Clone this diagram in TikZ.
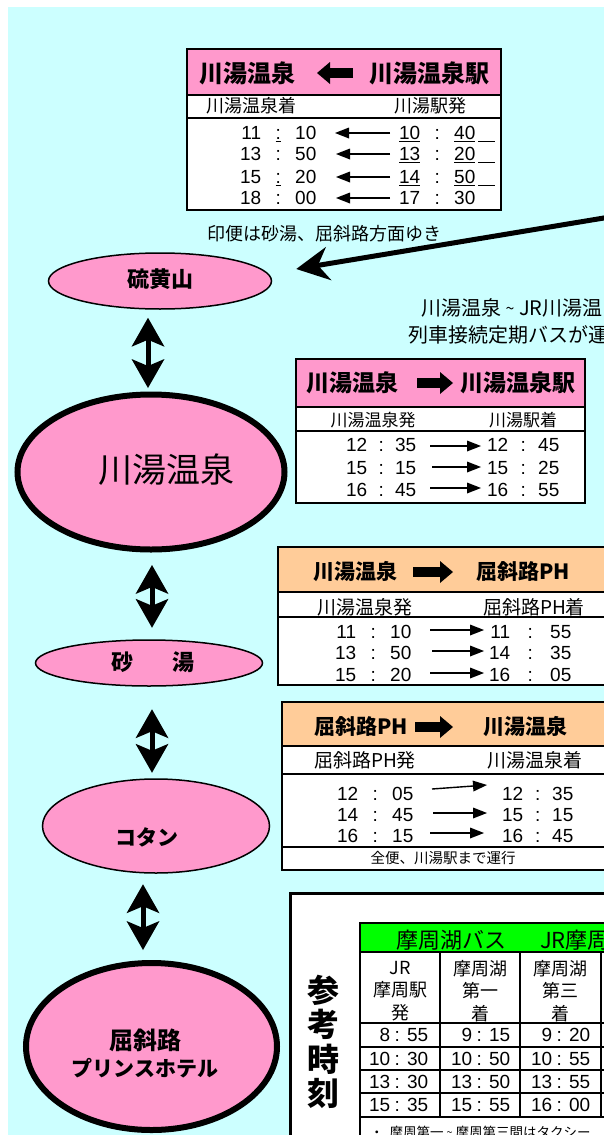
\documentclass[tikz,border=0pt]{standalone}
\usepackage{fontspec}
\setmainfont{Liberation Sans}
\newfontfamily\jp{Noto Sans CJK JP}
\usetikzlibrary{arrows.meta,shapes.geometric}
\definecolor{bgc}{HTML}{CCFFFF}
\definecolor{pk}{HTML}{FF99CC}
\definecolor{og}{HTML}{FFCC99}
\definecolor{gr}{HTML}{00FF00}
\newcommand\fs[1]{\fontsize{#1}{#1}\selectfont}
\newcommand\tm[4]{\makebox[20pt][r]{#2}\makebox[#1pt]{#3}\makebox[20pt][l]{#4}}
\newcommand\mt[2]{\makebox[24pt][r]{#1}\makebox[14pt]{:}\makebox[24pt][r]{#2}}
\newcommand\ul{\underline{\hspace{17pt}}}
\newcommand\tld{\raisebox{1pt}{\scalebox{0.8}{\string~}}}
\tikzset{
  ell/.style={ellipse, draw, fill=pk, inner sep=0pt},
  thinell/.style={ell, line width=1.5pt},
  thickell/.style={ell, line width=6pt},
  dbl/.style={line width=5pt, {Stealth[length=29pt,width=33pt,inset=7pt,line width=0pt]}-{Stealth[length=29pt,width=33pt,inset=7pt,line width=0pt]}},
  bigarr/.style={line width=5pt, -{Stealth[length=33pt,width=34pt,inset=11pt,line width=0pt]}},
  frame/.style={draw, line width=2pt},
  rule/.style={line width=1.6pt},
  hd/.style={font=\jp\bfseries\fs{#1}, inner sep=0pt},
  sub/.style={font=\jp\fs{#1}, inner sep=0pt},
  tt/.style={font=\fs{19}, inner sep=0pt, anchor=west, text height=13.6pt, text depth=0pt},
  dd/.style={tt},
  blk/.style={line width=10pt, -{Triangle[length=13pt,width=22pt,line width=0pt]}},
  rowarr/.style={line width=1.4pt, -{Triangle[length=14pt,width=11pt,line width=0pt]}},
  etxt/.style={inner sep=0pt}
}
\begin{document}
\begin{tikzpicture}[x=1pt,y=-1pt]
\useasboundingbox (0,0) rectangle (604,1135);
\clip (0,0) rectangle (604,1135);
\fill[bgc] (8,7) rectangle (620,1150);

% ---------- Table 1 ----------
\fill[white] (187,49) rectangle (501,210);
\fill[pk] (187,49) rectangle (501,95);
\draw[rule] (187,95) -- (501,95);
\draw[rule] (187,118) -- (501,118);
\draw[frame] (187,49) rectangle (501,210);
\node[hd=24] (t1a) at (247,73) {川湯温泉};
\node[hd=24] (t1b) at (429,73) {川湯温泉駅};
\draw[blk] (353,73) -- (317,73);
\node[sub=18, anchor=west] (t1c) at (206,106) {川湯温泉着};
\node[sub=18] (t1d) at (430,106) {川湯駅発};
\node[tt] (t1l1) at (241,133) {\tm{34}{11}{\underline{:}}{10}};
\node[tt] (t1r1) at (400,133) {\tm{34}{\underline{10}}{:}{\underline{40}}\hspace{4pt}\ul};
\node[tt] (t1l2) at (241,154) {\tm{34}{13}{:}{50}};
\node[tt] (t1r2) at (400,154) {\tm{34}{\underline{13}}{:}{\underline{20}}\hspace{4pt}\ul};
\node[tt] (t1l3) at (241,177) {\tm{34}{15}{\underline{:}}{20}};
\node[tt] (t1r3) at (400,177) {\tm{34}{\underline{14}}{:}{\underline{50}}\hspace{4pt}\ul};
\node[tt] (t1l4) at (241,198) {\tm{34}{18}{:}{00}};
\node[tt] (t1r4) at (400,198) {\tm{34}{17}{:}{30}};
\draw[rowarr] (390,133) -- (335,133);
\draw[rowarr] (390,154) -- (336,154);
\draw[rowarr] (390,177) -- (336,177);
\draw[rowarr] (390,198) -- (336,198);

% ---------- notes ----------
\node[sub=18, anchor=west] (note1) at (207,234) {印便は砂湯、屈斜路方面ゆき};
\node[sub=20, anchor=west] (note2) at (421,308) {川湯温泉 \tld\ JR川湯温};
\node[sub=20, anchor=west] (note3) at (408,335) {列車接続定期バスが運};

% ---------- Table 2 ----------
\fill[white] (296,359) rectangle (585,503);
\fill[pk] (296,359) rectangle (585,407);
\draw[rule] (296,407) -- (585,407);
\draw[rule] (296,431) -- (585,431);
\draw[frame] (296,359) rectangle (585,503);
\node[hd=23] (t2a) at (352,383) {川湯温泉};
\node[hd=23] (t2b) at (518,383) {川湯温泉駅};
\draw[blk] (417,383) -- (453,383);
\node[sub=17] (t2c) at (373,420) {川湯温泉発};
\node[sub=17] (t2d) at (523,420) {川湯駅着};
\node[tt] (t2l1) at (347,445) {\tm{28}{12}{:}{35}};
\node[tt] (t2r1) at (488,445) {\tm{30}{12}{:}{45}};
\node[tt] (t2l2) at (347,468) {\tm{28}{15}{:}{15}};
\node[tt] (t2r2) at (488,468) {\tm{30}{15}{:}{25}};
\node[tt] (t2l3) at (347,490) {\tm{28}{16}{:}{45}};
\node[tt] (t2r3) at (488,490) {\tm{30}{16}{:}{55}};
\draw[rowarr] (430,446) -- (481,446);
\draw[rowarr] (432,467) -- (481,467);
\draw[rowarr] (430,488) -- (481,488);

% ---------- Table 3 ----------
\fill[white] (278,547) rectangle (620,685);
\fill[og] (278,547) rectangle (620,592);
\draw[rule] (278,592) -- (620,592);
\draw[rule] (278,617) -- (620,617);
\draw[frame] (278,547) rectangle (620,685);
\node[hd=21] (t3a) at (355,572) {川湯温泉};
\node[hd=21] (t3b) at (523,572) {屈斜路PH};
\draw[blk] (413,572) -- (453,572);
\node[sub=19] (t3c) at (365,607) {川湯温泉発};
\node[sub=19] (t3d) at (534,607) {屈斜路PH着};
\node[tt] (t3l1) at (336,632) {\tm{34}{11}{:}{10}};
\node[tt] (t3r1) at (490,632) {\tm{40}{11}{:}{55}};
\node[tt] (t3l2) at (336,653) {\tm{34}{13}{:}{50}};
\node[tt] (t3r2) at (490,653) {\tm{40}{14}{:}{35}};
\node[tt] (t3l3) at (336,675) {\tm{34}{15}{:}{20}};
\node[tt] (t3r3) at (490,675) {\tm{40}{16}{:}{05}};
\draw[rowarr] (430,630) -- (484,630);
\draw[rowarr] (432,651) -- (484,651);
\draw[rowarr] (430,673) -- (484,673);

% ---------- Table 4 ----------
\fill[white] (282,702) rectangle (620,870);
\fill[og] (282,702) rectangle (620,746);
\draw[rule] (282,746) -- (620,746);
\draw[rule] (282,774) -- (620,774);
\draw[rule] (282,847) -- (620,847);
\draw[frame] (282,702) rectangle (620,870);
\node[hd=21] (t4a) at (361,727) {屈斜路PH};
\node[hd=21] (t4b) at (525,727) {川湯温泉};
\draw[blk] (415,727) -- (453,727);
\node[sub=19] (t4c) at (365,760) {屈斜路PH発};
\node[sub=19] (t4d) at (535,760) {川湯温泉着};
\node[tt] (t4l1) at (338,794) {\tm{34}{12}{:}{05}};
\node[tt] (t4r1) at (503,794) {\tm{29}{12}{:}{35}};
\node[tt] (t4l2) at (338,815) {\tm{34}{14}{:}{45}};
\node[tt] (t4r2) at (503,815) {\tm{29}{15}{:}{15}};
\node[tt] (t4l3) at (338,836) {\tm{34}{16}{:}{15}};
\node[tt] (t4r3) at (503,836) {\tm{29}{16}{:}{45}};
\draw[rowarr] (432,789) -- (487,785);
\draw[rowarr] (433,813) -- (487,813);
\draw[rowarr] (430,833) -- (484,833);
\node[sub=14.5] (t4e) at (443,858) {全便、川湯駅まで運行};

% ---------- Reference box ----------
\draw[line width=3pt, fill=white] (290,893) rectangle (660,1170);
\node[font=\jp\bfseries\fontsize{32}{34.5}\selectfont, align=center, inner sep=0pt] (sanko) at (323,1042) {参\\考\\時\\刻};
\fill[gr] (360,923) rectangle (660,952);
\draw[line width=2.5pt] (360,923) -- (660,923);
\draw[rule] (360,952) -- (660,952);
\foreach \yy in {1023,1047,1070,1093,1117} { \draw[rule] (360,\yy) -- (660,\yy); }
\draw[rule] (360,922) -- (360,1170);
\foreach \xx in {440,520,601} { \draw[rule] (\xx,952) -- (\xx,1117); }
\node[sub=22, anchor=west] (mh) at (396,940) {摩周湖バス\hspace{34pt}JR摩周};
\node[font=\jp\fontsize{18}{22.5}\selectfont, align=center, inner sep=0pt] (c1) at (400,991) {JR\\摩周駅\\発};
\node[font=\jp\fontsize{18}{22.5}\selectfont, align=center, inner sep=0pt] (c2) at (480,991) {摩周湖\\第一\\着};
\node[font=\jp\fontsize{18}{22.5}\selectfont, align=center, inner sep=0pt] (c3) at (560,991) {摩周湖\\第三\\着};
\node[dd] (d11) at (366,1035) {\mt{8}{55}};
\node[dd] (d12) at (448,1035) {\mt{9}{15}};
\node[dd] (d13) at (528,1035) {\mt{9}{20}};
\node[dd] (d21) at (366,1059) {\mt{10}{30}};
\node[dd] (d22) at (448,1059) {\mt{10}{50}};
\node[dd] (d23) at (528,1059) {\mt{10}{55}};
\node[dd] (d31) at (366,1082) {\mt{13}{30}};
\node[dd] (d32) at (448,1082) {\mt{13}{50}};
\node[dd] (d33) at (528,1082) {\mt{13}{55}};
\node[dd] (d41) at (366,1105) {\mt{15}{35}};
\node[dd] (d42) at (448,1105) {\mt{15}{55}};
\node[dd] (d43) at (528,1105) {\mt{16}{00}};
\node[sub=13.5, anchor=west] (fn) at (370,1132) {・\hspace{6pt}摩周第一 \tld\ 摩周第三間はタクシー};

% ---------- Ellipses ----------
\node[thinell, minimum width=223pt, minimum height=56pt] (iou) at (160,281) {};
\node[thickell, minimum width=267pt, minimum height=155pt] (kawayu) at (151,472) {};
\node[thinell, minimum width=227pt, minimum height=46pt] (sunayu) at (149,663) {};
\node[thinell, minimum width=227pt, minimum height=94pt] (kotan) at (156,826) {};
\node[thickell, minimum width=251pt, minimum height=167pt] (kussharo) at (151.5,1046.5) {};
\node[hd=22] (iout) at (160,279) {硫黄山};
\node[etxt, font=\jp\fs{34}] (kawayut) at (166,470) {川湯温泉};
\node[hd=22] (sunayut) at (153,662) {砂\hspace{40pt}湯};
\node[hd=21] (kotant) at (147,837) {コタン};
\node[hd=24] (kussharot) at (145,1040) {屈斜路};
\node[hd=21] (princet) at (145,1068) {プリンスホテル};

% ---------- Connectors ----------
\coordinate (ax1) at (148,0);
\coordinate (ax2) at (152,0);
\coordinate (ax4) at (143,0);
\draw[dbl, shorten <=8pt, shorten >=3.5pt] (ax1 |- iou.south) -- (ax1 |- kawayu.north);
\draw[dbl, shorten <=12.5pt, shorten >=11.5pt] (ax2 |- kawayu.south) -- (ax2 |- sunayu.north);
\draw[dbl, shorten <=22.5pt, shorten >=5.5pt] (ax2 |- sunayu.south) -- (ax2 |- kotan.north);
\draw[dbl, shorten <=10.5pt, shorten >=10pt] (ax4 |- kotan.south) -- (ax4 |- kussharo.north);
\coordinate (bigs) at (640,212);
\draw[bigarr] (bigs) -- ([shift={(24pt,12pt)}]iou.east);
\end{tikzpicture}
\end{document}
